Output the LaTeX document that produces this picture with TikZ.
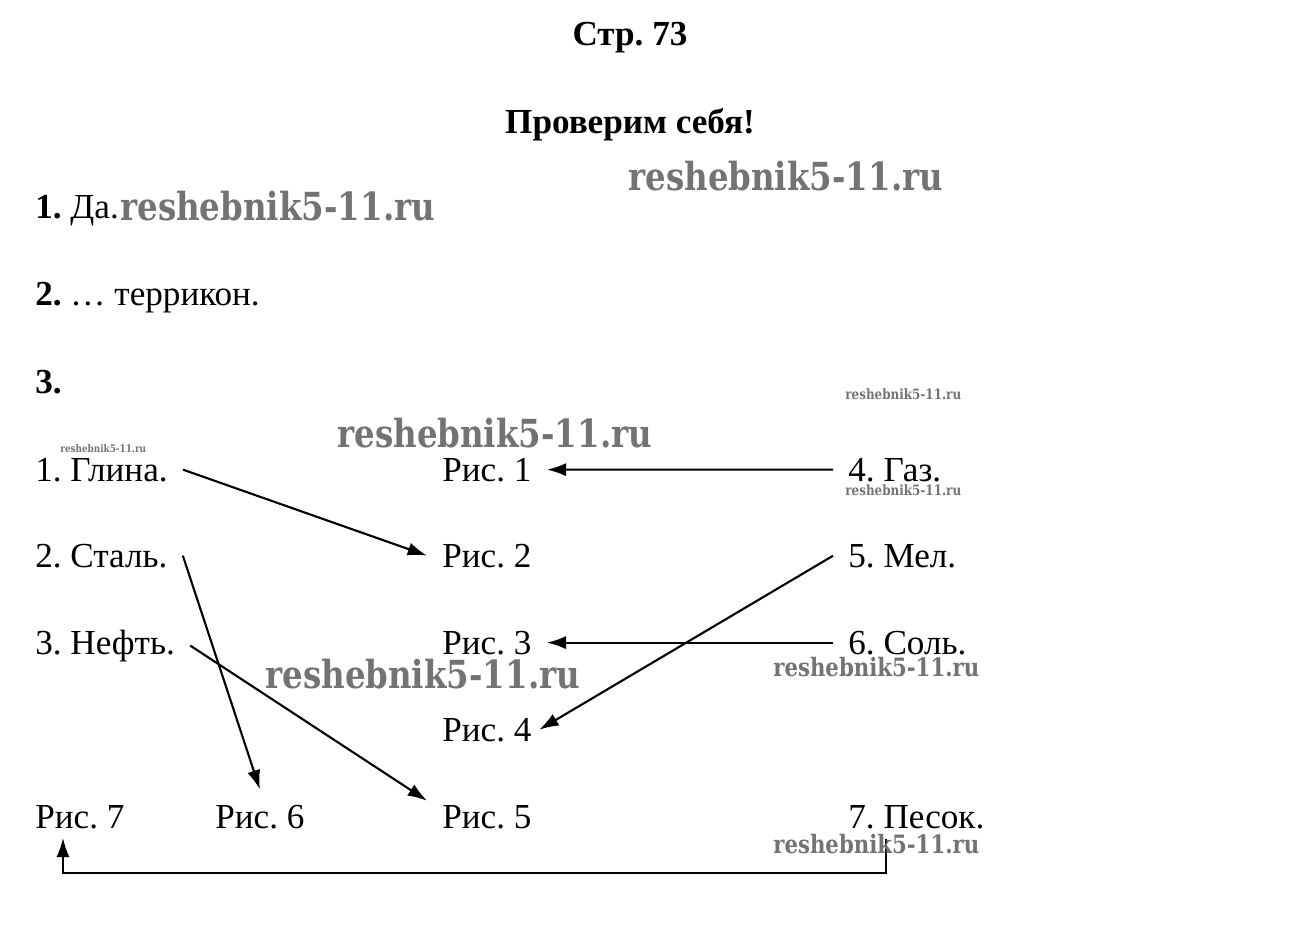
\documentclass[tikz,border=0pt]{standalone}
\usepackage{fontspec}
\setmainfont{Liberation Serif}
\newfontfamily\wmfont{DejaVu Serif}[FakeStretch=0.84]
\usepackage{tikz}
\usetikzlibrary{arrows.meta,calc}
\frenchspacing

\begin{document}
\begin{tikzpicture}[x=0.02cm, y=0.02cm,
    txt/.style={anchor=base west, inner xsep=0.3cm, inner ysep=0.3cm, font=\fontsize{20}{24}\selectfont},
    head/.style={anchor=base, font=\fontsize{20}{24}\selectfont\bfseries},
    wm/.style={anchor=base west, inner sep=0pt, text=black!55, font=\wmfont\bfseries\fontsize{#1}{#1}\selectfont},
    arr/.style={line width=1.2pt, -{Latex[length=11pt,width=7.5pt]}}]
    \useasboundingbox (0,0) rectangle (1290,-950);
    \node[head] (str) at (630,-45) {Стр. 73};
    \node[head] (check) at (630,-133) {Проверим себя!};
    \node[txt] (q1) at (20,-218) {\textbf{1.} Да.};
    \node[txt] (q2) at (20,-305) {\textbf{2.} … террикон.};
    \node[txt] (q3) at (20,-393) {\textbf{3.}};
    \node[txt] (glina) at (20,-481) {1. Глина.};
    \node[txt] (stal) at (20,-567) {2. Сталь.};
    \node[txt] (neft) at (20,-654) {3. Нефть.};
    \node[txt] (ris1) at (427,-481) {Рис. 1};
    \node[txt] (ris2) at (427,-567) {Рис. 2};
    \node[txt] (ris3) at (427,-654) {Рис. 3};
    \node[txt] (ris4) at (427,-741) {Рис. 4};
    \node[txt] (ris5) at (427,-828) {Рис. 5};
    \node[txt] (ris6) at (200,-828) {Рис. 6};
    \node[txt] (ris7) at (20,-828) {Рис. 7};
    \node[txt] (gaz) at (833,-481) {4. Газ.};
    \node[txt] (mel) at (833,-567) {5. Мел.};
    \node[txt] (sol) at (833,-654) {6. Соль.};
    \node[txt] (pesok) at (833,-828) {7. Песок.};
    \draw[arr] (glina.east) -- (ris2.west);
    \draw[arr] (stal.east) -- (ris6.north);
    \draw[arr] (neft.east) -- (ris5.165);
    \draw[arr] (gaz.west) -- (ris1.east);
    \draw[arr] (mel.west) -- ([xshift=-0.15cm]ris4.east);
    \draw[arr] (sol.west) -- (ris3.east);
    \draw[arr] ([xshift=1.06cm,yshift=0.1cm]pesok.south west) -- ++(0,-34) -| ([xshift=0.86cm,yshift=0.12cm]ris7.south west);
    \node[wm=22] (wm1) at (628,-190) {reshebnik5-11.ru};
    \node[wm=22] (wm2) at (120,-220) {reshebnik5-11.ru};
    \node[wm=22] (wm3) at (337,-447) {reshebnik5-11.ru};
    \node[wm=22] (wm4) at (265,-688) {reshebnik5-11.ru};
    \node[wm=8.1] (wm5) at (845,-399) {reshebnik5-11.ru};
    \node[wm=8.1] (wm6) at (845,-495) {reshebnik5-11.ru};
    \node[wm=6] (wm7) at (60,-452) {reshebnik5-11.ru};
    \node[wm=14.4] (wm8) at (773,-676) {reshebnik5-11.ru};
    \node[wm=14.4] (wm9) at (773,-853) {reshebnik5-11.ru};
\end{tikzpicture}
\end{document}
